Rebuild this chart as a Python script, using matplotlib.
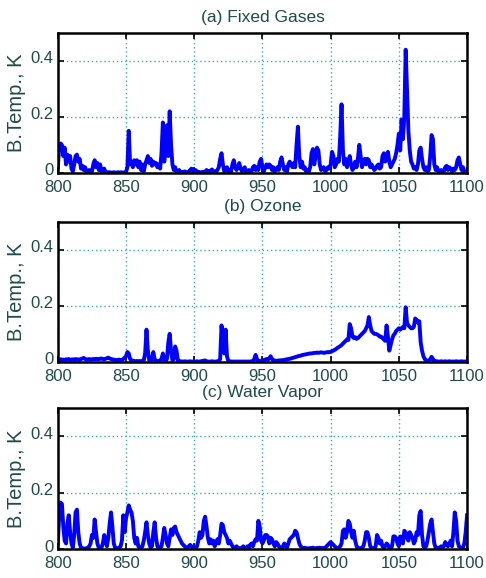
import numpy as np
import matplotlib
matplotlib.use("Agg")
import matplotlib.pyplot as plt
import matplotlib.transforms as mtransforms

plt.rcParams["font.family"] = ["Liberation Sans", "DejaVu Sans"]

TEXT_COLOR = "#1f4a48"
GRID_COLOR = "#3aaaa8"
LINE_COLOR = "#0000ff"

# wavenumber grid, 1 cm^-1 spacing
wavenumber = np.arange(800, 1101)

# brightness temperature sensitivity (K)
fixed_gases = [
    0.02, 0.09, 0.105, 0.1, 0.06, 0.09, 0.03, 0.065, 0.04, 0.06,      # 800
    0.015, 0.005, 0.03, 0.06, 0.065, 0.04, 0.05, 0.015, 0.025, 0.01,  # 810
    0.02, 0.005, 0.003, 0.01, 0.004, 0.005, 0.03, 0.045, 0.02, 0.035, # 820
    0.01, 0.03, 0.005, 0.004, 0.015, 0.003, 0.002, 0.002, 0.002, 0.001,
    0.001, 0.002, 0.001, 0.001, 0.002, 0.001, 0.002, 0.001, 0.001, 0.002,
    0.003, 0.02, 0.15, 0.03, 0.04, 0.02, 0.045, 0.03, 0.045, 0.02,    # 850
    0.04, 0.01, 0.03, 0.005, 0.03, 0.045, 0.06, 0.035, 0.05, 0.025,
    0.04, 0.03, 0.035, 0.02, 0.03, 0.015, 0.07, 0.18, 0.04, 0.08,
    0.17, 0.06, 0.22, 0.1, 0.03, 0.01, 0.02, 0.005, 0.003, 0.01,
    0.002, 0.003, 0.002, 0.005, 0.002, 0.002, 0.004, 0.01, 0.015, 0.005,
    0.002, 0.01, 0.003, 0.004, 0.002, 0.002, 0.003, 0.004, 0.002, 0.01,  # 900
    0.006, 0.005, 0.008, 0.012, 0.004, 0.005, 0.003, 0.01, 0.02, 0.05,
    0.07, 0.03, 0.005, 0.01, 0.02, 0.005, 0.01, 0.005, 0.03, 0.045,
    0.02, 0.01, 0.02, 0.035, 0.015, 0.005, 0.01, 0.02, 0.005, 0.004,
    0.01, 0.003, 0.005, 0.02, 0.025, 0.01, 0.02, 0.01, 0.04, 0.05,
    0.02, 0.005, 0.02, 0.03, 0.02, 0.03, 0.025, 0.01, 0.02, 0.005,    # 950
    0.01, 0.02, 0.01, 0.04, 0.055, 0.03, 0.01, 0.02, 0.005, 0.03,
    0.04, 0.03, 0.02, 0.035, 0.02, 0.1, 0.165, 0.06, 0.02, 0.04,
    0.015, 0.02, 0.005, 0.01, 0.005, 0.02, 0.07, 0.085, 0.03, 0.06,
    0.09, 0.08, 0.03, 0.01, 0.015, 0.02, 0.005, 0.01, 0.02, 0.015,
    0.03, 0.075, 0.06, 0.02, 0.03, 0.05, 0.04, 0.13, 0.245, 0.08,     # 1000
    0.03, 0.05, 0.02, 0.04, 0.06, 0.03, 0.01, 0.02, 0.04, 0.02,
    0.05, 0.1, 0.06, 0.02, 0.04, 0.05, 0.03, 0.05, 0.045, 0.02,
    0.03, 0.02, 0.01, 0.015, 0.025, 0.03, 0.015, 0.02, 0.06, 0.07,
    0.04, 0.06, 0.075, 0.04, 0.02, 0.03, 0.04, 0.05, 0.07, 0.1,
    0.14, 0.08, 0.19, 0.12, 0.2, 0.44, 0.3, 0.15, 0.08, 0.04,         # 1050
    0.03, 0.015, 0.02, 0.01, 0.03, 0.08, 0.09, 0.05, 0.02, 0.01,
    0.02, 0.005, 0.01, 0.06, 0.135, 0.12, 0.03, 0.01, 0.02, 0.005,
    0.003, 0.01, 0.004, 0.005, 0.02, 0.025, 0.01, 0.02, 0.015, 0.005,
    0.015, 0.01, 0.02, 0.045, 0.055, 0.03, 0.01, 0.02, 0.005, 0.004,
    0.003,
]

ozone = [
    0.008, 0.006, 0.009, 0.007, 0.008, 0.006, 0.009, 0.008, 0.01, 0.007,   # 800
    0.008, 0.009, 0.007, 0.01, 0.008, 0.009, 0.007, 0.01, 0.012, 0.014,
    0.01, 0.008, 0.009, 0.01, 0.008, 0.009, 0.01, 0.009, 0.011, 0.01,
    0.009, 0.011, 0.012, 0.01, 0.009, 0.011, 0.013, 0.015, 0.012, 0.01,
    0.009, 0.008, 0.007, 0.006, 0.007, 0.008, 0.006, 0.007, 0.01, 0.015,
    0.02, 0.035, 0.03, 0.01, 0.005, 0.004, 0.003, 0.002, 0.003, 0.002,     # 850
    0.003, 0.002, 0.003, 0.005, 0.03, 0.115, 0.04, 0.005, 0.003, 0.01,
    0.035, 0.01, 0.003, 0.002, 0.003, 0.005, 0.01, 0.03, 0.008, 0.003,
    0.01, 0.07, 0.1, 0.04, 0.005, 0.01, 0.055, 0.04, 0.005, 0.003,
    0.002, 0.001, 0.001, 0.002, 0.001, 0.001, 0.001, 0.002, 0.001, 0.001,
    0.001, 0.001, 0.002, 0.001, 0.001, 0.002, 0.003, 0.004, 0.005, 0.002,  # 900
    0.001, 0.001, 0.001, 0.002, 0.001, 0.001, 0.001, 0.002, 0.003, 0.01,
    0.13, 0.08, 0.03, 0.115, 0.02, 0.003, 0.002, 0.001, 0.001, 0.001,
    0.001, 0.001, 0.001, 0.001, 0.001, 0.001, 0.001, 0.001, 0.001, 0.001,
    0.001, 0.001, 0.002, 0.003, 0.01, 0.025, 0.01, 0.003, 0.002, 0.003,
    0.004, 0.006, 0.008, 0.01, 0.008, 0.012, 0.02, 0.01, 0.006, 0.005,     # 950
    0.003, 0.004, 0.005, 0.005, 0.006, 0.006, 0.007, 0.008, 0.009, 0.01,
    0.011, 0.012, 0.014, 0.015, 0.017, 0.018, 0.02, 0.021, 0.022, 0.024,
    0.025, 0.026, 0.027, 0.028, 0.029, 0.03, 0.03, 0.031, 0.032, 0.032,
    0.033, 0.032, 0.033, 0.034, 0.033, 0.032, 0.033, 0.034, 0.035, 0.034,
    0.036, 0.038, 0.04, 0.043, 0.046, 0.05, 0.053, 0.056, 0.06, 0.065,     # 1000
    0.07, 0.075, 0.08, 0.078, 0.135, 0.12, 0.09, 0.085, 0.088, 0.082,
    0.085, 0.09, 0.095, 0.1, 0.105, 0.11, 0.12, 0.13, 0.16, 0.13,
    0.11, 0.105, 0.1, 0.1, 0.098, 0.095, 0.09, 0.09, 0.085, 0.08,
    0.075, 0.13, 0.09, 0.04, 0.06, 0.08, 0.095, 0.1, 0.11, 0.115,
    0.12, 0.115, 0.12, 0.125, 0.12, 0.195, 0.14, 0.13, 0.125, 0.12,        # 1050
    0.12, 0.125, 0.155, 0.15, 0.14, 0.145, 0.07, 0.04, 0.02, 0.01,
    0.005, 0.004, 0.003, 0.01, 0.018, 0.01, 0.003, 0.002, 0.002, 0.001,
    0.001, 0.002, 0.001, 0.001, 0.002, 0.001, 0.001, 0.002, 0.001, 0.001,
    0.001, 0.001, 0.002, 0.001, 0.001, 0.001, 0.002, 0.001, 0.001, 0.001,
    0.001,
]

water_vapor = [
    0.02, 0.12, 0.165, 0.16, 0.08, 0.03, 0.02, 0.09, 0.12, 0.06,       # 800
    0.02, 0.005, 0.05, 0.13, 0.14, 0.06, 0.02, 0.005, 0.003, 0.002,
    0.002, 0.003, 0.005, 0.01, 0.02, 0.05, 0.04, 0.105, 0.06, 0.02,
    0.005, 0.002, 0.005, 0.02, 0.05, 0.03, 0.01, 0.04, 0.09, 0.13,
    0.08, 0.02, 0.005, 0.002, 0.003, 0.005, 0.01, 0.03, 0.12, 0.06,
    0.11, 0.13, 0.155, 0.14, 0.13, 0.1, 0.04, 0.02, 0.04, 0.01,        # 850
    0.005, 0.003, 0.01, 0.03, 0.06, 0.095, 0.05, 0.02, 0.005, 0.01,
    0.06, 0.095, 0.04, 0.01, 0.003, 0.005, 0.01, 0.04, 0.075, 0.05,
    0.02, 0.01, 0.04, 0.07, 0.05, 0.075, 0.08, 0.06, 0.05, 0.04,
    0.03, 0.02, 0.015, 0.01, 0.005, 0.003, 0.01, 0.015, 0.01, 0.003,
    0.002, 0.003, 0.01, 0.03, 0.06, 0.04, 0.05, 0.1, 0.115, 0.08,      # 900
    0.04, 0.02, 0.035, 0.02, 0.03, 0.01, 0.02, 0.035, 0.02, 0.05,
    0.09, 0.085, 0.06, 0.05, 0.04, 0.02, 0.03, 0.02, 0.01, 0.005,
    0.003, 0.01, 0.005, 0.003, 0.002, 0.005, 0.01, 0.003, 0.002, 0.01,
    0.005, 0.015, 0.02, 0.01, 0.025, 0.035, 0.03, 0.1, 0.08, 0.03,
    0.02, 0.03, 0.05, 0.05, 0.045, 0.02, 0.04, 0.035, 0.02, 0.01,      # 950
    0.025, 0.02, 0.01, 0.005, 0.003, 0.01, 0.02, 0.01, 0.005, 0.02,
    0.035, 0.04, 0.045, 0.05, 0.065, 0.06, 0.04, 0.02, 0.01, 0.005,
    0.003, 0.005, 0.002, 0.003, 0.002, 0.004, 0.003, 0.005, 0.002, 0.003,
    0.004, 0.002, 0.005, 0.003, 0.004, 0.002, 0.005, 0.01, 0.015, 0.02,
    0.025, 0.02, 0.015, 0.01, 0.005, 0.003, 0.005, 0.01, 0.02, 0.065,  # 1000
    0.07, 0.04, 0.06, 0.1, 0.09, 0.06, 0.04, 0.065, 0.03, 0.01,
    0.005, 0.003, 0.002, 0.005, 0.01, 0.03, 0.06, 0.06, 0.04, 0.01,
    0.005, 0.003, 0.002, 0.01, 0.05, 0.04, 0.02, 0.03, 0.01, 0.005,
    0.01, 0.02, 0.015, 0.005, 0.002, 0.01, 0.045, 0.045, 0.04, 0.02,
    0.01, 0.045, 0.04, 0.02, 0.065, 0.06, 0.04, 0.03, 0.06, 0.05,      # 1050
    0.04, 0.02, 0.03, 0.06, 0.05, 0.12, 0.135, 0.05, 0.01, 0.005,
    0.01, 0.03, 0.06, 0.09, 0.105, 0.06, 0.02, 0.005, 0.003, 0.005,
    0.003, 0.01, 0.005, 0.01, 0.025, 0.015, 0.01, 0.02, 0.03, 0.01,
    0.06, 0.13, 0.1, 0.03, 0.01, 0.005, 0.003, 0.005, 0.02, 0.06,
    0.12,
]

panel_titles = ["(a) Fixed Gases", "(b) Ozone", "(c) Water Vapor"]
panel_data = [fixed_gases, ozone, water_vapor]
x_ticks = [800, 850, 900, 950, 1000, 1050, 1100]
y_ticks = [0, 0.2, 0.4]
y_tick_labels = ["0", "0.2", "0.4"]
y_label = "B.Temp., K"

fig = plt.figure(figsize=(4.86, 5.78), dpi=100)
# axes boxes in figure fractions (left, bottom, width, height)
boxes = [(0.119, 0.701, 0.842, 0.242),
         (0.119, 0.374, 0.842, 0.242),
         (0.119, 0.050, 0.842, 0.244)]

# lift y tick labels a little so "0" clears the "800" below it
lift = mtransforms.ScaledTranslation(0, 2.5 / 72, fig.dpi_scale_trans)

for box, title, values in zip(boxes, panel_titles, panel_data):
    ax = fig.add_axes(box)
    ax.plot(wavenumber, values, color=LINE_COLOR, lw=2.8, zorder=3)
    ax.set_xlim(800, 1100)
    ax.set_ylim(0, 0.5)
    ax.set_xticks(x_ticks)
    ax.set_yticks(y_ticks)
    ax.set_yticklabels(y_tick_labels)
    ax.grid(True, linestyle=(0, (1, 2)), color=GRID_COLOR, lw=1.0)
    ax.tick_params(direction="in", top=True, right=True, length=4, width=1.2,
                   labelsize=12, labelcolor=TEXT_COLOR)
    ax.tick_params(axis="x", pad=5)
    ax.tick_params(axis="y", pad=3)
    for lab in ax.get_yticklabels():
        lab.set_transform(lab.get_transform() + lift)
    for sp in ax.spines.values():
        sp.set_linewidth(1.8)
        sp.set_zorder(5)
    ax.set_ylabel(y_label, fontsize=14.5, color=TEXT_COLOR, labelpad=3)
    ax.set_title(title, fontsize=12.5, color=TEXT_COLOR, pad=8)

fig.savefig("out.png", dpi=100)
